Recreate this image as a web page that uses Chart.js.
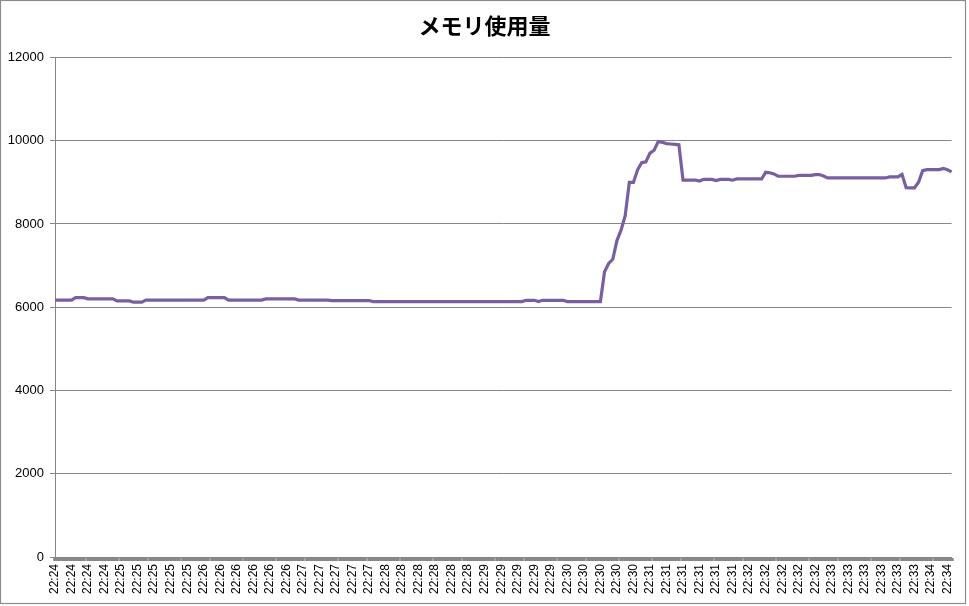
<!DOCTYPE html>
<html>
<head>
<meta charset="utf-8">
<script src="https://cdn.jsdelivr.net/npm/chart.js@4/dist/chart.umd.min.js"></script>
<style>
  html, body { margin: 0; padding: 0; background: #fff; }
  canvas { display: block; }
</style>
</head>
<body>
<canvas id="memChart" width="969" height="606"></canvas>
<script>
// ===== MEMORY USAGE =====
const chartTitle = 'メモリ使用量';

// one visible label every 4 samples
const tickLabels = [
  '22:24','22:24','22:24','22:24',
  '22:25','22:25','22:25','22:25','22:25',
  '22:26','22:26','22:26','22:26','22:26','22:26',
  '22:27','22:27','22:27','22:27','22:27',
  '22:28','22:28','22:28','22:28','22:28','22:28',
  '22:29','22:29','22:29','22:29','22:29',
  '22:30','22:30','22:30','22:30','22:30',
  '22:31','22:31','22:31','22:31','22:31','22:31',
  '22:32','22:32','22:32','22:32','22:32',
  '22:33','22:33','22:33','22:33','22:33','22:33',
  '22:34','22:34'
];
const samplesPerLabel = 4;

const memoryValues = [
  6170,6170,6170,6170,6170,6230,6230,6230,6200,6200,
  6200,6200,6200,6200,6200,6150,6150,6150,6150,6120,
  6120,6120,6170,6170,6170,6170,6170,6170,6170,6170,
  6170,6170,6170,6170,6170,6170,6170,6230,6230,6230,
  6230,6230,6170,6170,6170,6170,6170,6170,6170,6170,
  6170,6200,6200,6200,6200,6200,6200,6200,6200,6170,
  6170,6170,6170,6170,6170,6170,6170,6160,6160,6160,
  6160,6160,6160,6160,6160,6160,6160,6135,6135,6135,
  6135,6135,6135,6135,6135,6135,6135,6135,6135,6135,
  6135,6135,6135,6135,6135,6135,6135,6135,6135,6135,
  6135,6135,6135,6135,6135,6135,6135,6135,6135,6135,
  6135,6135,6135,6135,6165,6165,6165,6135,6165,6165,
  6165,6165,6165,6165,6135,6135,6135,6135,6135,6135,
  6135,6135,6135,6850,7050,7150,7600,7850,8200,9000,
  9000,9300,9470,9490,9700,9770,9980,9960,9930,9920,
  9910,9900,9050,9050,9050,9050,9030,9070,9070,9070,
  9040,9070,9070,9070,9050,9080,9080,9080,9080,9080,
  9080,9080,9240,9230,9200,9145,9145,9145,9145,9145,
  9165,9165,9165,9165,9185,9185,9150,9105,9105,9105,
  9105,9105,9105,9105,9105,9105,9105,9105,9105,9105,
  9105,9105,9130,9130,9130,9190,8870,8865,8865,9000,
  9280,9305,9305,9305,9305,9335,9300,9250
];

const yTicks = { min: 0, max: 12000, step: 2000 };

const categories = memoryValues.map((v, i) => tickLabels[Math.floor(i / samplesPerLabel)] || '');

const AXIS_GRAY = '#868686';
const LINE_PURPLE = '#7a5fa0';

// white background + outer frame like the spreadsheet chart
const frame = {
  id: 'frame',
  beforeDraw(chart) {
    const c = chart.ctx;
    c.save();
    c.fillStyle = '#fff';
    c.fillRect(0, 0, chart.width, chart.height);
    c.restore();
  },
  afterDraw(chart) {
    const c = chart.ctx;
    c.save();
    c.strokeStyle = '#8c8c8c';
    c.lineWidth = 1.2;
    c.strokeRect(0.5, 0.5, 965, 603);
    c.restore();
  }
};

new Chart(document.getElementById('memChart').getContext('2d'), {
  type: 'line',
  data: {
    labels: categories,
    datasets: [{
      label: chartTitle,
      data: memoryValues,
      borderColor: LINE_PURPLE,
      borderWidth: 3.2,
      pointRadius: 0,
      tension: 0,
      fill: false
    }]
  },
  options: {
    responsive: false,
    animation: false,
    layout: { padding: 0 },
    plugins: {
      legend: { display: false },
      tooltip: { enabled: false },
      title: {
        display: true,
        text: chartTitle,
        color: '#000',
        font: { family: '"Noto Sans CJK JP", "Noto Sans", sans-serif', size: 22, weight: 'bold' },
        padding: { top: 12, bottom: 19 }
      }
    },
    scales: {
      x: {
        type: 'category',
        offset: false,
        grid: {
          drawOnChartArea: false,
          drawTicks: true,
          tickLength: 4,
          tickWidth: 4.5,
          tickColor: AXIS_GRAY
        },
        border: { display: true, color: AXIS_GRAY, width: 1 },
        ticks: {
          autoSkip: false,
          minRotation: 90,
          maxRotation: 90,
          padding: 3,
          color: '#000',
          font: { family: '"Liberation Sans", Arial, sans-serif', size: 12 },
          callback: (val, idx) => idx % samplesPerLabel === 0 ? tickLabels[idx / samplesPerLabel] : ''
        },
        afterFit: s => { s.height = 49; }
      },
      y: {
        min: yTicks.min,
        max: yTicks.max,
        grid: {
          color: AXIS_GRAY,
          lineWidth: 1,
          drawTicks: true,
          tickLength: 5,
          tickColor: AXIS_GRAY
        },
        border: { display: true, color: AXIS_GRAY, width: 1 },
        ticks: {
          stepSize: yTicks.step,
          padding: 6,
          color: '#000',
          font: { family: '"Liberation Sans", Arial, sans-serif', size: 13 },
          callback: v => String(v)
        },
        afterFit: s => { s.width = 55; }
      },
      // empty right margin so the title stays centred on the whole canvas
      yRight: {
        display: true,
        position: 'right',
        grid: { drawOnChartArea: false, drawTicks: false },
        border: { display: false },
        ticks: { display: false },
        afterFit: s => { s.width = 16; }
      }
    }
  },
  plugins: [frame]
});
</script>
</body>
</html>
